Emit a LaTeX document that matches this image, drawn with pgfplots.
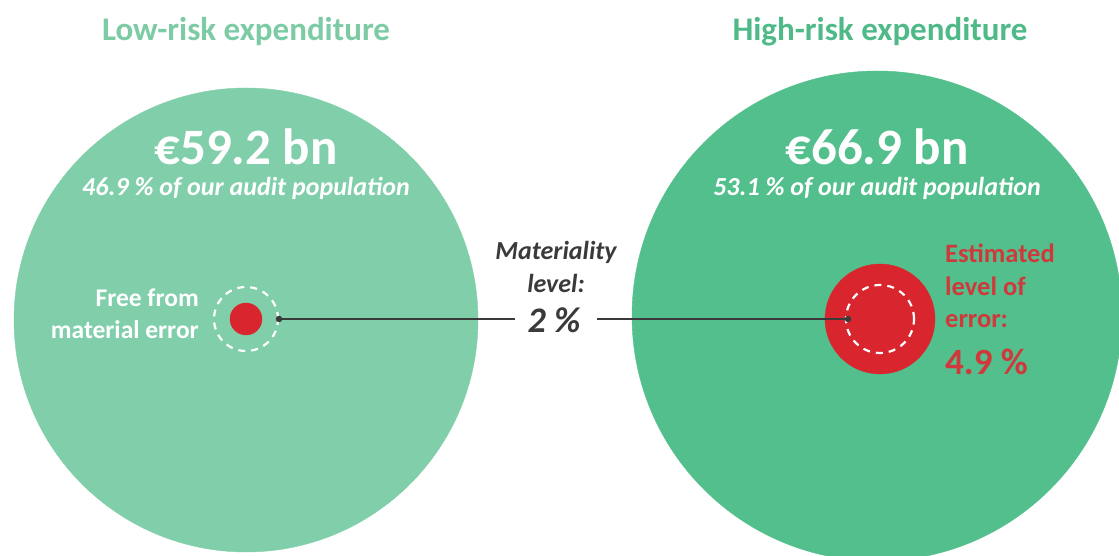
\documentclass[border=0pt]{standalone}
\usepackage{pgfplots}
\pgfplotsset{compat=1.18}
\usepackage{fontspec}
\setmainfont{Carlito}
\definecolor{lowg}{RGB}{128,207,170}
\definecolor{highg}{RGB}{82,191,140}
\definecolor{lowt}{RGB}{125,203,165}
\definecolor{hight}{RGB}{79,186,136}
\definecolor{redc}{RGB}{217,38,46}
\definecolor{redt}{RGB}{208,57,59}
\definecolor{dgrey}{RGB}{58,58,58}
\begin{document}
\begin{tikzpicture}
\begin{axis}[
  set layers,
  x=1pt, y=1pt,
  xmin=0, xmax=1119, ymin=0, ymax=556,
  hide axis, clip=true,
]
% big circles (radius in px)
\addplot[only marks, color=lowg, mark=*, mark size=232pt] coordinates {(246,236)};
\addplot[only marks, color=highg, mark=*, mark size=245pt] coordinates {(877,240)};
% red error circles
\addplot[only marks, color=redc, mark=*, mark size=16pt] coordinates {(246,237)};
\addplot[only marks, color=redc, mark=*, mark size=55pt] coordinates {(880,237)};
% dashed materiality circles
\addplot[only marks, color=white, mark=o, mark size=32pt, mark options={line width=2.2pt, dash pattern=on 7pt off 6pt}] coordinates {(246,237)};
\addplot[only marks, color=white, mark=o, mark size=34pt, mark options={line width=2.2pt, dash pattern=on 7pt off 6pt}] coordinates {(880,237)};
% connecting lines
\addplot[dgrey, line width=1.3pt, no marks, on layer=axis foreground] coordinates {(279,237) (515,237)};
\addplot[dgrey, line width=1.3pt, no marks, on layer=axis foreground] coordinates {(597,237) (848,237)};
\addplot[only marks, color=dgrey, mark=*, mark size=3pt, on layer=axis foreground] coordinates {(279,237) (848,237)};
\coordinate (SW) at (axis cs:0,0);
\coordinate (NE) at (axis cs:1119,556);
\coordinate (T1) at (axis cs:246,524);
\coordinate (T2) at (axis cs:880,524);
\coordinate (A1) at (axis cs:246,409);
\coordinate (B1) at (axis cs:246,368);
\coordinate (A2) at (axis cs:877,409);
\coordinate (B2) at (axis cs:877,368);
\coordinate (F) at (axis cs:200,242);
\coordinate (M) at (axis cs:556,289);
\coordinate (P) at (axis cs:554,236);
\coordinate (E) at (axis cs:944,313);
\coordinate (E2) at (axis cs:944,194);
\end{axis}
\node[text=lowt, font=\bfseries\fontsize{33}{36}\selectfont] at (T1) {Low-risk expenditure};
\node[text=hight, font=\bfseries\fontsize{33}{36}\selectfont] at (T2) {High-risk expenditure};
\node[text=white, font=\bfseries\fontsize{51}{54}\selectfont] at (A1) {€59.2 bn};
\node[text=white, font=\bfseries\itshape\fontsize{26}{28}\selectfont] at (B1) {46.9 \% of our audit population};
\node[text=white, font=\bfseries\fontsize{51}{54}\selectfont] at (A2) {€66.9 bn};
\node[text=white, font=\bfseries\itshape\fontsize{26}{28}\selectfont] at (B2) {53.1 \% of our audit population};
\node[text=white, font=\bfseries\fontsize{25.5}{32}\selectfont, align=right, anchor=east, inner sep=1pt] at (F) {Free from\\material error};
\node[text=dgrey, font=\bfseries\itshape\fontsize{26}{33}\selectfont, align=center] at (M) {Materiality\\level:};
\node[text=dgrey, font=\bfseries\itshape\fontsize{36}{38}\selectfont] at (P) {2 \%};
\node[text=redt, font=\bfseries\fontsize{26.5}{32.5}\selectfont, align=left, anchor=north west, inner sep=1pt] at (E) {Estimated\\level of\\error:};
\node[text=redt, font=\bfseries\fontsize{37}{40}\selectfont, anchor=west, inner sep=1pt] at (E2) {4.9 \%};
\pgfresetboundingbox
\useasboundingbox (SW) rectangle (NE);
\end{tikzpicture}
\end{document}
